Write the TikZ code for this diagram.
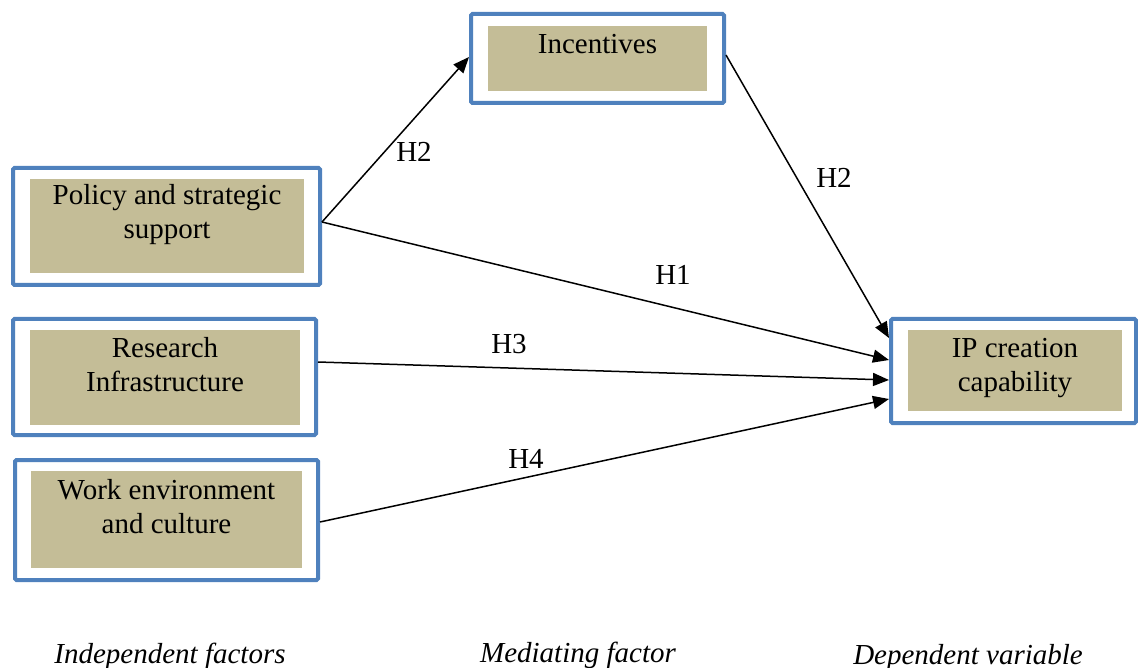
\documentclass[tikz,border=0pt]{standalone}
\usepackage{fontspec}
\setmainfont{Liberation Serif}
\usetikzlibrary{arrows.meta}
\definecolor{boxblue}{HTML}{4F81BD}
\definecolor{boxtan}{HTML}{C4BD97}

\begin{document}
\begin{tikzpicture}[x=1pt,y=-1pt,
  frame/.style={draw=boxblue, line width=4pt, rounded corners=1.5pt, fill=white, inner sep=0pt},
  fillbox/.style={fill=boxtan, draw=none, inner sep=0pt, outer sep=0pt},
  lbl/.style={font=\fontsize{29}{34}\selectfont, inner sep=0pt, anchor=base},
  axislbl/.style={font=\fontsize{29}{34}\selectfont\itshape, inner sep=0pt, anchor=base},
  conn/.style={draw=black, line width=1.5pt, -{Triangle[length=16pt,width=13pt]}}]
\useasboundingbox (0,0) rectangle (1138,668);

% Mediating factor
\node[frame, minimum width=253pt, minimum height=89pt] (inc) at (597.5,58.5) {};
\node[fillbox, minimum width=219pt, minimum height=65pt] (inc-fill) at (597.5,58.5) {};
\node[lbl] (inc-txt) at (597.5,54) {Incentives};

% Independent factors
\node[frame, minimum width=307pt, minimum height=117pt] (pol) at (166.5,226.5) {};
\node[fillbox, minimum width=274pt, minimum height=94pt] (pol-fill) at (167,226) {};
\node[lbl] (pol-txt) at (167,205) {\begin{tabular}[t]{@{}c@{}}Policy and strategic\\support\end{tabular}};

\node[frame, minimum width=303pt, minimum height=116pt] (res) at (164.5,377) {};
\node[fillbox, minimum width=270pt, minimum height=95pt] (res-fill) at (165,377.5) {};
\node[lbl] (res-txt) at (165,358) {\begin{tabular}[t]{@{}c@{}}Research\\Infrastructure\end{tabular}};

\node[frame, minimum width=303pt, minimum height=120pt] (wrk) at (166.5,520) {};
\node[fillbox, minimum width=271pt, minimum height=97pt] (wrk-fill) at (166.5,519.5) {};
\node[lbl] (wrk-txt) at (166.5,499) {\begin{tabular}[t]{@{}c@{}}Work environment\\and culture\end{tabular}};

% Dependent variable
\node[frame, minimum width=245pt, minimum height=104pt] (ip) at (1013.5,371) {};
\node[fillbox, minimum width=214pt, minimum height=81pt] (ip-fill) at (1015,370.5) {};
\node[lbl] (ip-txt) at (1015,358) {\begin{tabular}[t]{@{}c@{}}IP creation\\capability\end{tabular}};

% Hypothesised paths
\draw[conn] ([yshift=4.5pt]pol.east) -- ([yshift=1.5pt]inc.west);
\draw[conn] ([yshift=4.5pt]pol.east) -- ([yshift=11pt]ip.west);
\draw[conn] ([yshift=3.5pt]inc.east) -- ([yshift=33pt]ip.west);
\draw[conn] ([yshift=15pt]res.east) -- ([yshift=-9pt]ip.west);
\draw[conn] ([yshift=-2pt]wrk.east) -- ([yshift=-28pt]ip.west);

% Path labels
\node[lbl] (h2a) at (414,162) {H2};
\node[lbl] (h1) at (673,285) {H1};
\node[lbl] (h2b) at (834,188) {H2};
\node[lbl] (h3) at (509,353) {H3};
\node[lbl] (h4) at (526,468) {H4};

% Column captions
\node[axislbl] (cap-ind) at (170,663) {Independent factors};
\node[axislbl] (cap-med) at (578,662) {Mediating factor};
\node[axislbl] (cap-dep) at (968,664) {Dependent variable};
\end{tikzpicture}
\end{document}
